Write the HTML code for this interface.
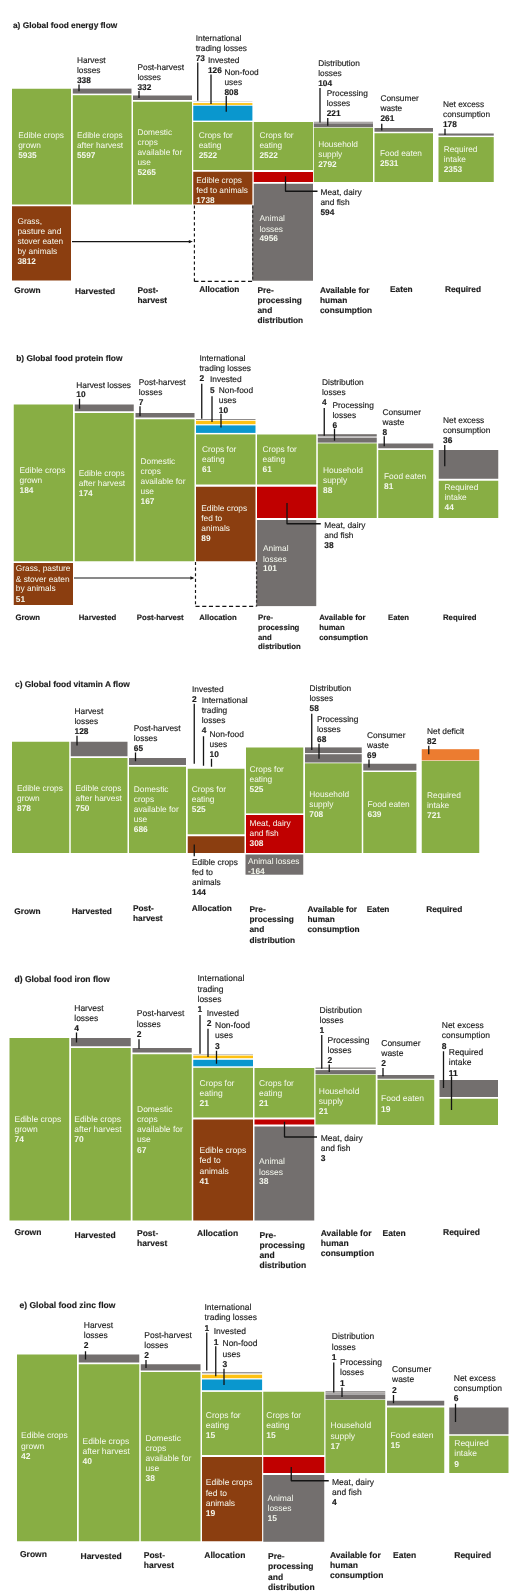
<!DOCTYPE html>
<html><head><meta charset="utf-8"><title>Global food flows</title>
<style>
html,body{margin:0;padding:0;background:#fff}
body{width:520px;height:1591px;overflow:hidden}
svg{display:block;will-change:transform;filter:blur(0.3px)}
svg text{font-family:"Liberation Sans",sans-serif;white-space:pre;text-rendering:geometricPrecision;stroke-linejoin:round}
svg text.k{fill:#1c1c1c;stroke:#1c1c1c;stroke-width:0.15px}
svg text.w{fill:#f6f9ef;stroke:none}
</style></head><body>
<svg width="520" height="1591" viewBox="0 0 520 1591">
<rect x="0" y="0" width="520" height="1591" fill="#fff"/>
<g>
<rect x="12" y="88.75" width="59" height="115.75" fill="#88ae44"/>
<rect x="12" y="206.25" width="59" height="74.25" fill="#8b3e10"/>
<rect x="72.8" y="88.6" width="58.7" height="5" fill="#736f6e"/>
<rect x="72.8" y="95.2" width="58.7" height="109.3" fill="#88ae44"/>
<rect x="133" y="95.5" width="59" height="4.5" fill="#736f6e"/>
<rect x="133" y="101.75" width="59" height="102.75" fill="#88ae44"/>
<rect x="193.25" y="101.2" width="59.15" height="0.7" fill="#d4d3d8"/>
<rect x="193.25" y="103.1" width="59.15" height="1.8" fill="#fdc112"/>
<rect x="193.25" y="105.7" width="59.15" height="14.9" fill="#0a97ce"/>
<rect x="193.25" y="122" width="59.15" height="48" fill="#88ae44"/>
<rect x="193.25" y="171.75" width="59.15" height="32.75" fill="#8b3e10"/>
<rect x="253.75" y="122" width="59.25" height="48" fill="#88ae44"/>
<rect x="253.75" y="172" width="59.25" height="10" fill="#c00000"/>
<rect x="253.75" y="183.75" width="59.25" height="97" fill="#736f6e"/>
<rect x="313.8" y="121.7" width="59.2" height="1.8" fill="#a9a6a5"/>
<rect x="313.8" y="123.5" width="59.2" height="3.7" fill="#736f6e"/>
<rect x="313.8" y="127.75" width="59.2" height="54.25" fill="#88ae44"/>
<rect x="374.5" y="128" width="58.5" height="3.75" fill="#736f6e"/>
<rect x="374.5" y="133.25" width="58.5" height="48.75" fill="#88ae44"/>
<rect x="438.5" y="133.5" width="55.25" height="2.1" fill="#736f6e"/>
<rect x="438.5" y="137.1" width="55.25" height="44.9" fill="#88ae44"/>
<line x1="194.4" y1="205.5" x2="194.4" y2="281.8" stroke="#141414" stroke-width="1.15" stroke-dasharray="3.1 2.5"/>
<line x1="194.4" y1="281.3" x2="252.5" y2="281.3" stroke="#141414" stroke-width="1.15" stroke-dasharray="4.1 2.6"/>
<rect x="252.2" y="205.5" width="1.8" height="75.25" fill="#736f6e"/>
<line x1="252.7" y1="205.5" x2="252.7" y2="281.5" stroke="#3a3838" stroke-width="1.3" stroke-dasharray="2.7 2.05"/>
<line x1="72" y1="241.6" x2="190.8" y2="241.6" stroke="#141414" stroke-width="1.1"/>
<path d="M192.8 241.6 L188.8 239.9 L188.8 243.3 Z" fill="#141414"/>
<text class="k" font-size="8.3"><tspan x="13" y="28.25" font-weight="700">a) Global food energy flow</tspan></text>
<text class="k" font-size="8.3"><tspan x="77" y="63.1">Harvest</tspan><tspan x="77" y="73.1">losses</tspan><tspan x="77" y="83.35" font-weight="700">338</tspan></text>
<line x1="79" y1="84.5" x2="79" y2="91.25" stroke="#141414" stroke-width="1.3"/>
<text class="k" font-size="8.3"><tspan x="137.5" y="70.1">Post-harvest</tspan><tspan x="137.5" y="80.1">losses</tspan><tspan x="137.5" y="90.1" font-weight="700">332</tspan></text>
<line x1="139" y1="91" x2="139" y2="98" stroke="#141414" stroke-width="1.3"/>
<text class="k" font-size="8.3"><tspan x="195.75" y="41.35">International</tspan><tspan x="195.75" y="51.35">trading losses</tspan><tspan x="195.75" y="60.85" font-weight="700">73</tspan></text>
<line x1="197.75" y1="62.5" x2="197.75" y2="100.75" stroke="#141414" stroke-width="1.3"/>
<text class="k" font-size="8.3"><tspan x="208" y="63.1">Invested</tspan><tspan x="208" y="73.1" font-weight="700">126</tspan></text>
<line x1="211" y1="74.5" x2="211" y2="104" stroke="#141414" stroke-width="1.3"/>
<text class="k" font-size="8.3"><tspan x="224.5" y="74.6">Non-food</tspan><tspan x="224.5" y="85.1">uses</tspan><tspan x="224.5" y="94.6" font-weight="700">808</tspan></text>
<line x1="226.25" y1="96" x2="226.25" y2="111.75" stroke="#141414" stroke-width="1.3"/>
<text class="k" font-size="8.3"><tspan x="318.25" y="65.6">Distribution</tspan><tspan x="318.25" y="75.6">losses</tspan><tspan x="318.25" y="85.6" font-weight="700">104</tspan></text>
<line x1="320" y1="88" x2="320" y2="122.5" stroke="#141414" stroke-width="1.3"/>
<text class="k" font-size="8.3"><tspan x="326.75" y="95.6">Processing</tspan><tspan x="326.75" y="105.6">losses</tspan><tspan x="326.75" y="115.6" font-weight="700">221</tspan></text>
<line x1="327.75" y1="118" x2="327.75" y2="125.75" stroke="#141414" stroke-width="1.3"/>
<text class="k" font-size="8.3"><tspan x="380.5" y="101.35">Consumer</tspan><tspan x="380.5" y="111.35">waste</tspan><tspan x="380.5" y="121.35" font-weight="700">261</tspan></text>
<line x1="381.75" y1="123.75" x2="381.75" y2="130.5" stroke="#141414" stroke-width="1.3"/>
<text class="k" font-size="8.3"><tspan x="443" y="106.85">Net excess</tspan><tspan x="443" y="117.1">consumption</tspan><tspan x="443" y="126.85" font-weight="700">178</tspan></text>
<line x1="445" y1="128.75" x2="445" y2="135" stroke="#141414" stroke-width="1.3"/>
<text class="w" font-size="8.3"><tspan x="18.25" y="138.4">Edible crops</tspan><tspan x="18.25" y="148.4">grown</tspan><tspan x="18.25" y="158.4" font-weight="700">5935</tspan></text>
<text class="w" font-size="8.3"><tspan x="77" y="138.4">Edible crops</tspan><tspan x="77" y="148.4">after harvest</tspan><tspan x="77" y="158.4" font-weight="700">5597</tspan></text>
<text class="w" font-size="8.3"><tspan x="137.5" y="134.65">Domestic</tspan><tspan x="137.5" y="144.65">crops</tspan><tspan x="137.5" y="154.65">available for</tspan><tspan x="137.5" y="164.9">use</tspan><tspan x="137.5" y="174.9" font-weight="700">5265</tspan></text>
<text class="w" font-size="8.3"><tspan x="198.75" y="137.65">Crops for</tspan><tspan x="198.75" y="147.65">eating</tspan><tspan x="198.75" y="157.65" font-weight="700">2522</tspan></text>
<text class="w" font-size="8.3"><tspan x="196.25" y="182.65">Edible crops</tspan><tspan x="196.25" y="192.65">fed to animals</tspan><tspan x="196.25" y="202.65" font-weight="700">1738</tspan></text>
<text class="w" font-size="8.3"><tspan x="259.5" y="137.65">Crops for</tspan><tspan x="259.5" y="147.65">eating</tspan><tspan x="259.5" y="157.9" font-weight="700">2522</tspan></text>
<text class="w" font-size="8.3"><tspan x="259.5" y="221.4">Animal</tspan><tspan x="259.5" y="231.9">losses</tspan><tspan x="259.5" y="241.4" font-weight="700">4956</tspan></text>
<text class="w" font-size="8.3"><tspan x="318.25" y="147.15">Household</tspan><tspan x="318.25" y="157.15">supply</tspan><tspan x="318.25" y="167.15" font-weight="700">2792</tspan></text>
<text class="w" font-size="8.3"><tspan x="380" y="155.9">Food eaten</tspan><tspan x="380" y="165.65" font-weight="700">2531</tspan></text>
<text class="w" font-size="8.3"><tspan x="443.75" y="151.9">Required</tspan><tspan x="443.75" y="162.15">intake</tspan><tspan x="443.75" y="171.9" font-weight="700">2353</tspan></text>
<text class="w" font-size="8.3"><tspan x="17.5" y="223.9">Grass,</tspan><tspan x="17.5" y="233.9">pasture and</tspan><tspan x="17.5" y="243.9">stover eaten</tspan><tspan x="17.5" y="254.4">by animals</tspan><tspan x="17.5" y="263.9" font-weight="700">3812</tspan></text>
<text class="k" font-size="8.3"><tspan x="320.5" y="195.1">Meat, dairy</tspan><tspan x="320.5" y="205.1">and fish</tspan><tspan x="320.5" y="214.6" font-weight="700">594</tspan></text>
<line x1="285.5" y1="176.25" x2="285.5" y2="191.25" stroke="#141414" stroke-width="1.3"/>
<line x1="285.15" y1="191.25" x2="317.5" y2="191.25" stroke="#141414" stroke-width="1.3"/>
<text class="k" font-size="8.3"><tspan x="14.25" y="293" font-weight="700">Grown</tspan></text>
<text class="k" font-size="8.3"><tspan x="75" y="293.75" font-weight="700">Harvested</tspan></text>
<text class="k" font-size="8.3"><tspan x="137.5" y="292.5" font-weight="700">Post-</tspan><tspan x="137.5" y="302.5" font-weight="700">harvest</tspan></text>
<text class="k" font-size="8.3"><tspan x="199.25" y="291.75" font-weight="700">Allocation</tspan></text>
<text class="k" font-size="8.3"><tspan x="257.5" y="292.5" font-weight="700">Pre-</tspan><tspan x="257.5" y="302.5" font-weight="700">processing</tspan><tspan x="257.5" y="313" font-weight="700">and</tspan><tspan x="257.5" y="323" font-weight="700">distribution</tspan></text>
<text class="k" font-size="8.3"><tspan x="320" y="292.5" font-weight="700">Available for</tspan><tspan x="320" y="302.5" font-weight="700">human</tspan><tspan x="320" y="312.5" font-weight="700">consumption</tspan></text>
<text class="k" font-size="8.3"><tspan x="390" y="292" font-weight="700">Eaten</tspan></text>
<text class="k" font-size="8.3"><tspan x="445" y="292" font-weight="700">Required</tspan></text>
</g>
<g>
<rect x="13.75" y="404.5" width="59.25" height="156.75" fill="#88ae44"/>
<rect x="13.75" y="563" width="59.25" height="42" fill="#8b3e10"/>
<rect x="74.75" y="404.5" width="59" height="6.75" fill="#736f6e"/>
<rect x="74.75" y="413" width="59" height="148.25" fill="#88ae44"/>
<rect x="135.5" y="413" width="59" height="4.5" fill="#736f6e"/>
<rect x="135.5" y="419.25" width="59" height="142" fill="#88ae44"/>
<rect x="196" y="419.1" width="59.5" height="0.8" fill="#736f6e"/>
<rect x="196" y="420.8" width="59.5" height="3.4" fill="#fdc112"/>
<rect x="196" y="425.4" width="59.5" height="7.5" fill="#0a97ce"/>
<rect x="196" y="434.4" width="59.5" height="50.1" fill="#88ae44"/>
<rect x="196" y="486.75" width="59.5" height="74.5" fill="#8b3e10"/>
<rect x="257" y="434.5" width="59.25" height="50" fill="#88ae44"/>
<rect x="257" y="486.75" width="59.25" height="31.25" fill="#c00000"/>
<rect x="257" y="520" width="59.25" height="86.1" fill="#736f6e"/>
<rect x="256.3" y="562" width="0.9" height="44.1" fill="#736f6e"/>
<rect x="317.8" y="434.2" width="58.95" height="2.3" fill="#736f6e"/>
<rect x="317.8" y="437.6" width="58.95" height="5" fill="#736f6e"/>
<rect x="317.8" y="443.4" width="58.95" height="74.6" fill="#88ae44"/>
<rect x="378.25" y="443.5" width="55" height="4.75" fill="#736f6e"/>
<rect x="378.25" y="450" width="55" height="68" fill="#88ae44"/>
<rect x="438.75" y="450" width="59.5" height="28.75" fill="#736f6e"/>
<rect x="438.75" y="480.75" width="59.5" height="37.25" fill="#88ae44"/>
<line x1="195.5" y1="562" x2="195.5" y2="606.8" stroke="#141414" stroke-width="1.15" stroke-dasharray="3.1 2.5"/>
<line x1="195.5" y1="606.3" x2="256.3" y2="606.3" stroke="#141414" stroke-width="1.15" stroke-dasharray="4.1 2.6"/>
<line x1="256.6" y1="562" x2="256.6" y2="606.5" stroke="#3a3838" stroke-width="1.3" stroke-dasharray="2.7 2.05"/>
<line x1="74" y1="577.95" x2="192.4" y2="577.95" stroke="#141414" stroke-width="1.1"/>
<path d="M194.4 577.95 L190.4 576.25 L190.4 579.65 Z" fill="#141414"/>
<text class="k" font-size="8.35"><tspan x="16.25" y="361.25" font-weight="700">b) Global food protein flow</tspan></text>
<text class="k" font-size="8.35"><tspan x="76.25" y="387.6">Harvest losses</tspan><tspan x="76.25" y="397.1" font-weight="700">10</tspan></text>
<line x1="79.5" y1="398.75" x2="79.5" y2="408.75" stroke="#141414" stroke-width="1.3"/>
<text class="k" font-size="8.35"><tspan x="138.75" y="385.1">Post-harvest</tspan><tspan x="138.75" y="395.1">losses</tspan><tspan x="138.75" y="405.1" font-weight="700">7</tspan></text>
<line x1="140" y1="406.25" x2="140" y2="416.25" stroke="#141414" stroke-width="1.3"/>
<text class="k" font-size="8.35"><tspan x="199.5" y="360.85">International</tspan><tspan x="199.5" y="370.85">trading losses</tspan><tspan x="199.5" y="380.85" font-weight="700">2</tspan></text>
<line x1="201.75" y1="383.75" x2="201.75" y2="418.75" stroke="#141414" stroke-width="1.3"/>
<text class="k" font-size="8.35"><tspan x="210" y="382.1">Invested</tspan><tspan x="210" y="392.6" font-weight="700">5</tspan></text>
<line x1="212" y1="396.25" x2="212" y2="422" stroke="#141414" stroke-width="1.3"/>
<text class="k" font-size="8.35"><tspan x="218.75" y="393.1">Non-food</tspan><tspan x="218.75" y="403.1">uses</tspan><tspan x="218.75" y="413.35" font-weight="700">10</tspan></text>
<line x1="221" y1="413.75" x2="221" y2="427.5" stroke="#141414" stroke-width="1.3"/>
<text class="k" font-size="8.35"><tspan x="322" y="385.1">Distribution</tspan><tspan x="322" y="395.1">losses</tspan><tspan x="322" y="405.1" font-weight="700">4</tspan></text>
<line x1="324.25" y1="408" x2="324.25" y2="435.75" stroke="#141414" stroke-width="1.3"/>
<text class="k" font-size="8.35"><tspan x="332.5" y="407.6">Processing</tspan><tspan x="332.5" y="417.6">losses</tspan><tspan x="332.5" y="427.6" font-weight="700">6</tspan></text>
<line x1="334.5" y1="428.75" x2="334.5" y2="440.75" stroke="#141414" stroke-width="1.3"/>
<text class="k" font-size="8.35"><tspan x="382.5" y="414.6">Consumer</tspan><tspan x="382.5" y="424.6">waste</tspan><tspan x="382.5" y="435.1" font-weight="700">8</tspan></text>
<line x1="384.25" y1="436.25" x2="384.25" y2="446.25" stroke="#141414" stroke-width="1.3"/>
<text class="k" font-size="8.35"><tspan x="443" y="423.1">Net excess</tspan><tspan x="443" y="433.1">consumption</tspan><tspan x="443" y="443.1" font-weight="700">36</tspan></text>
<line x1="444.75" y1="445" x2="444.75" y2="466.25" stroke="#141414" stroke-width="1.3"/>
<text class="w" font-size="8.35"><tspan x="19.5" y="472.65">Edible crops</tspan><tspan x="19.5" y="482.65">grown</tspan><tspan x="19.5" y="493.15" font-weight="700">184</tspan></text>
<text class="w" font-size="8.35"><tspan x="78.75" y="476.4">Edible crops</tspan><tspan x="78.75" y="486.4">after harvest</tspan><tspan x="78.75" y="496.4" font-weight="700">174</tspan></text>
<text class="w" font-size="8.35"><tspan x="140.5" y="463.9">Domestic</tspan><tspan x="140.5" y="473.9">crops</tspan><tspan x="140.5" y="484.4">available for</tspan><tspan x="140.5" y="494.4">use</tspan><tspan x="140.5" y="504.4" font-weight="700">167</tspan></text>
<text class="w" font-size="8.35"><tspan x="202" y="452.15">Crops for</tspan><tspan x="202" y="462.15">eating</tspan><tspan x="202" y="471.9" font-weight="700">61</tspan></text>
<text class="w" font-size="8.35"><tspan x="201.25" y="511.4">Edible crops</tspan><tspan x="201.25" y="521.4">fed to</tspan><tspan x="201.25" y="531.4">animals</tspan><tspan x="201.25" y="541.4" font-weight="700">89</tspan></text>
<text class="w" font-size="8.35"><tspan x="262.5" y="452.15">Crops for</tspan><tspan x="262.5" y="462.15">eating</tspan><tspan x="262.5" y="471.9" font-weight="700">61</tspan></text>
<text class="w" font-size="8.35"><tspan x="263" y="551.4">Animal</tspan><tspan x="263" y="561.9">losses</tspan><tspan x="263" y="571.4" font-weight="700">101</tspan></text>
<text class="w" font-size="8.35"><tspan x="323" y="472.65">Household</tspan><tspan x="323" y="482.65">supply</tspan><tspan x="323" y="492.65" font-weight="700">88</tspan></text>
<text class="w" font-size="8.35"><tspan x="384" y="478.9">Food eaten</tspan><tspan x="384" y="488.9" font-weight="700">81</tspan></text>
<text class="w" font-size="8.35"><tspan x="444.5" y="490.15">Required</tspan><tspan x="444.5" y="500.15">intake</tspan><tspan x="444.5" y="510.15" font-weight="700">44</tspan></text>
<text class="w" font-size="8.35"><tspan x="15.75" y="571.4">Grass, pasture</tspan><tspan x="15.75" y="581.9">&amp; stover eaten</tspan><tspan x="15.75" y="591.4">by animals</tspan><tspan x="15.75" y="601.9" font-weight="700">51</tspan></text>
<text class="k" font-size="8.35"><tspan x="324.25" y="527.6">Meat, dairy</tspan><tspan x="324.25" y="537.6">and fish</tspan><tspan x="324.25" y="547.6" font-weight="700">38</tspan></text>
<line x1="287" y1="503" x2="287" y2="523.75" stroke="#141414" stroke-width="1.3"/>
<line x1="286.65" y1="523.75" x2="320.75" y2="523.75" stroke="#141414" stroke-width="1.3"/>
<text class="k" font-size="7.75"><tspan x="15.5" y="620.4" font-weight="700">Grown</tspan></text>
<text class="k" font-size="7.75"><tspan x="78.75" y="620.4" font-weight="700">Harvested</tspan></text>
<text class="k" font-size="7.75"><tspan x="136.75" y="620.4" font-weight="700">Post-harvest</tspan></text>
<text class="k" font-size="7.75"><tspan x="199.25" y="620.4" font-weight="700">Allocation</tspan></text>
<text class="k" font-size="7.75"><tspan x="258" y="620.4" font-weight="700">Pre-</tspan><tspan x="258" y="630" font-weight="700">processing</tspan><tspan x="258" y="639.6" font-weight="700">and</tspan><tspan x="258" y="648.6" font-weight="700">distribution</tspan></text>
<text class="k" font-size="7.75"><tspan x="319.25" y="620.4" font-weight="700">Available for</tspan><tspan x="319.25" y="630" font-weight="700">human</tspan><tspan x="319.25" y="639.6" font-weight="700">consumption</tspan></text>
<text class="k" font-size="7.75"><tspan x="388" y="620.4" font-weight="700">Eaten</tspan></text>
<text class="k" font-size="7.75"><tspan x="443" y="620.4" font-weight="700">Required</tspan></text>
</g>
<g>
<rect x="12" y="741.75" width="57.25" height="111.25" fill="#88ae44"/>
<rect x="70.75" y="741.75" width="56.75" height="14.5" fill="#736f6e"/>
<rect x="70.75" y="758" width="56.75" height="95" fill="#88ae44"/>
<rect x="129" y="758" width="57" height="7" fill="#736f6e"/>
<rect x="129" y="766.75" width="57" height="86.25" fill="#88ae44"/>
<rect x="187.75" y="768.75" width="56.75" height="65.5" fill="#88ae44"/>
<rect x="187.75" y="836.25" width="56.75" height="16.75" fill="#8b3e10"/>
<rect x="246" y="747.5" width="57.25" height="65.9" fill="#88ae44"/>
<rect x="246" y="815" width="57.25" height="38" fill="#c00000"/>
<rect x="245.5" y="854.5" width="57.75" height="20.2" fill="#736f6e"/>
<rect x="305" y="747.4" width="56.75" height="5.7" fill="#736f6e"/>
<rect x="305" y="754.2" width="56.75" height="8.3" fill="#736f6e"/>
<rect x="305" y="763.3" width="56.75" height="89.7" fill="#88ae44"/>
<rect x="363.25" y="763.75" width="53.15" height="6.75" fill="#736f6e"/>
<rect x="363.25" y="772" width="53.15" height="81" fill="#88ae44"/>
<rect x="421.75" y="749.2" width="57.5" height="11.2" fill="#ec7c30"/>
<rect x="421.75" y="760.9" width="57.5" height="92.1" fill="#88ae44"/>
<text class="k" font-size="8.4"><tspan x="15" y="687" font-weight="700">c) Global food vitamin A flow</tspan></text>
<text class="k" font-size="8.35"><tspan x="74.5" y="713.6">Harvest</tspan><tspan x="74.5" y="723.6">losses</tspan><tspan x="74.5" y="733.6" font-weight="700">128</tspan></text>
<line x1="77" y1="735.75" x2="77" y2="745.5" stroke="#141414" stroke-width="1.3"/>
<text class="k" font-size="8.35"><tspan x="133.75" y="730.6">Post-harvest</tspan><tspan x="133.75" y="740.85">losses</tspan><tspan x="133.75" y="750.85" font-weight="700">65</tspan></text>
<line x1="135.5" y1="752.5" x2="135.5" y2="761.25" stroke="#141414" stroke-width="1.3"/>
<text class="k" font-size="8.35"><tspan x="192" y="691.6">Invested</tspan><tspan x="192" y="701.6" font-weight="700">2</tspan></text>
<line x1="194.25" y1="703.75" x2="194.25" y2="763.75" stroke="#141414" stroke-width="1.3"/>
<text class="k" font-size="8.35"><tspan x="201.75" y="703.1">International</tspan><tspan x="201.75" y="713.35">trading</tspan><tspan x="201.75" y="723.35">losses</tspan><tspan x="201.75" y="733.35" font-weight="700">4</tspan></text>
<line x1="203.5" y1="736.25" x2="203.5" y2="765.75" stroke="#141414" stroke-width="1.3"/>
<text class="k" font-size="8.35"><tspan x="209.5" y="737.1">Non-food</tspan><tspan x="209.5" y="747.1">uses</tspan><tspan x="209.5" y="756.85" font-weight="700">10</tspan></text>
<line x1="211.5" y1="758.75" x2="211.5" y2="766.75" stroke="#141414" stroke-width="1.3"/>
<text class="k" font-size="8.35"><tspan x="309.5" y="691.35">Distribution</tspan><tspan x="309.5" y="701.35">losses</tspan><tspan x="309.5" y="711.35" font-weight="700">58</tspan></text>
<line x1="311.75" y1="713.75" x2="311.75" y2="750" stroke="#141414" stroke-width="1.3"/>
<text class="k" font-size="8.35"><tspan x="317" y="721.85">Processing</tspan><tspan x="317" y="732.1">losses</tspan><tspan x="317" y="742.1" font-weight="700">68</tspan></text>
<line x1="319" y1="743.75" x2="319" y2="758.75" stroke="#141414" stroke-width="1.3"/>
<text class="k" font-size="8.35"><tspan x="367" y="737.6">Consumer</tspan><tspan x="367" y="747.6">waste</tspan><tspan x="367" y="757.6" font-weight="700">69</tspan></text>
<line x1="369" y1="759.5" x2="369" y2="767.5" stroke="#141414" stroke-width="1.3"/>
<text class="k" font-size="8.35"><tspan x="427" y="733.85">Net deficit</tspan><tspan x="427" y="743.85" font-weight="700">82</tspan></text>
<line x1="428.75" y1="745.75" x2="428.75" y2="754.25" stroke="#141414" stroke-width="1.3"/>
<text class="w" font-size="8.35"><tspan x="17" y="791.4">Edible crops</tspan><tspan x="17" y="801.4">grown</tspan><tspan x="17" y="811.4" font-weight="700">878</tspan></text>
<text class="w" font-size="8.35"><tspan x="75.5" y="791.4">Edible crops</tspan><tspan x="75.5" y="801.4">after harvest</tspan><tspan x="75.5" y="811.4" font-weight="700">750</tspan></text>
<text class="w" font-size="8.35"><tspan x="133.75" y="791.9">Domestic</tspan><tspan x="133.75" y="801.9">crops</tspan><tspan x="133.75" y="811.9">available for</tspan><tspan x="133.75" y="821.9">use</tspan><tspan x="133.75" y="832.15" font-weight="700">686</tspan></text>
<text class="w" font-size="8.35"><tspan x="191.75" y="791.9">Crops for</tspan><tspan x="191.75" y="801.9">eating</tspan><tspan x="191.75" y="811.9" font-weight="700">525</tspan></text>
<text class="w" font-size="8.35"><tspan x="249.5" y="771.9">Crops for</tspan><tspan x="249.5" y="782.15">eating</tspan><tspan x="249.5" y="791.9" font-weight="700">525</tspan></text>
<text class="w" font-size="8.35"><tspan x="249.5" y="826.4">Meat, dairy</tspan><tspan x="249.5" y="835.9">and fish</tspan><tspan x="249.5" y="845.9" font-weight="700">308</tspan></text>
<text class="w" font-size="8.35"><tspan x="248" y="863.9">Animal losses</tspan><tspan x="248" y="873.9" font-weight="700">-164</tspan></text>
<text class="w" font-size="8.35"><tspan x="309.25" y="796.9">Household</tspan><tspan x="309.25" y="806.9">supply</tspan><tspan x="309.25" y="817.15" font-weight="700">708</tspan></text>
<text class="w" font-size="8.35"><tspan x="367.5" y="807.15">Food eaten</tspan><tspan x="367.5" y="817.15" font-weight="700">639</tspan></text>
<text class="w" font-size="8.35"><tspan x="427" y="798.15">Required</tspan><tspan x="427" y="808.4">intake</tspan><tspan x="427" y="818.4" font-weight="700">721</tspan></text>
<text class="k" font-size="8.35"><tspan x="192" y="865.1">Edible crops</tspan><tspan x="192" y="875.1">fed to</tspan><tspan x="192" y="885.1">animals</tspan><tspan x="192" y="895.1" font-weight="700">144</tspan></text>
<line x1="194.25" y1="844.5" x2="194.25" y2="856.25" stroke="#141414" stroke-width="1.3"/>
<text class="k" font-size="8.3"><tspan x="14.25" y="914.25" font-weight="700">Grown</tspan></text>
<text class="k" font-size="8.3"><tspan x="71.75" y="914.25" font-weight="700">Harvested</tspan></text>
<text class="k" font-size="8.3"><tspan x="133" y="911.25" font-weight="700">Post-</tspan><tspan x="133" y="921.25" font-weight="700">harvest</tspan></text>
<text class="k" font-size="8.3"><tspan x="191.75" y="910.75" font-weight="700">Allocation</tspan></text>
<text class="k" font-size="8.3"><tspan x="249.5" y="911.75" font-weight="700">Pre-</tspan><tspan x="249.5" y="922" font-weight="700">processing</tspan><tspan x="249.5" y="932" font-weight="700">and</tspan><tspan x="249.5" y="942.5" font-weight="700">distribution</tspan></text>
<text class="k" font-size="8.3"><tspan x="307.5" y="911.75" font-weight="700">Available for</tspan><tspan x="307.5" y="922" font-weight="700">human</tspan><tspan x="307.5" y="932" font-weight="700">consumption</tspan></text>
<text class="k" font-size="8.3"><tspan x="366.75" y="911.75" font-weight="700">Eaten</tspan></text>
<text class="k" font-size="8.3"><tspan x="426.25" y="911.75" font-weight="700">Required</tspan></text>
</g>
<g>
<rect x="9.5" y="1038" width="59.75" height="182.5" fill="#88ae44"/>
<rect x="71" y="1038" width="59.75" height="8.25" fill="#736f6e"/>
<rect x="71" y="1048" width="59.75" height="172.5" fill="#88ae44"/>
<rect x="132.5" y="1048" width="59.25" height="4.5" fill="#736f6e"/>
<rect x="132.5" y="1054.25" width="59.25" height="166.25" fill="#88ae44"/>
<rect x="193.25" y="1054.2" width="59.75" height="0.6" fill="#a9a6a5"/>
<rect x="193.25" y="1055.6" width="59.75" height="2.6" fill="#fdc112"/>
<rect x="193.25" y="1059.8" width="59.75" height="6.5" fill="#0a97ce"/>
<rect x="193.25" y="1067.8" width="59.75" height="49.7" fill="#88ae44"/>
<rect x="193.25" y="1119.5" width="59.75" height="101" fill="#8b3e10"/>
<rect x="254.5" y="1068" width="59.75" height="49.5" fill="#88ae44"/>
<rect x="254.5" y="1119.5" width="59.75" height="5" fill="#c00000"/>
<rect x="254.5" y="1126.5" width="59.75" height="94" fill="#736f6e"/>
<rect x="315.5" y="1067.6" width="60.25" height="1.1" fill="#736f6e"/>
<rect x="315.5" y="1070.1" width="60.25" height="4.1" fill="#736f6e"/>
<rect x="315.5" y="1074.7" width="60.25" height="49.8" fill="#88ae44"/>
<rect x="377.5" y="1075" width="56.75" height="3.7" fill="#736f6e"/>
<rect x="377.5" y="1079.8" width="56.75" height="45.2" fill="#88ae44"/>
<rect x="439.5" y="1080" width="58.5" height="17" fill="#736f6e"/>
<rect x="439.5" y="1098.75" width="58.5" height="26.25" fill="#88ae44"/>
<text class="k" font-size="8.5"><tspan x="14.5" y="981.75" font-weight="700">d) Global food iron flow</tspan></text>
<text class="k" font-size="8.5"><tspan x="74.25" y="1010.6">Harvest</tspan><tspan x="74.25" y="1020.85">losses</tspan><tspan x="74.25" y="1030.85" font-weight="700">4</tspan></text>
<line x1="76.5" y1="1032.5" x2="76.5" y2="1042.5" stroke="#141414" stroke-width="1.3"/>
<text class="k" font-size="8.5"><tspan x="136.75" y="1016.35">Post-harvest</tspan><tspan x="136.75" y="1026.85">losses</tspan><tspan x="136.75" y="1036.85" font-weight="700">2</tspan></text>
<line x1="139" y1="1039.25" x2="139" y2="1048.75" stroke="#141414" stroke-width="1.3"/>
<text class="k" font-size="8.5"><tspan x="197.5" y="981.35">International</tspan><tspan x="197.5" y="991.85">trading</tspan><tspan x="197.5" y="1001.85">losses</tspan><tspan x="197.5" y="1011.85" font-weight="700">1</tspan></text>
<line x1="200" y1="1015" x2="200" y2="1053.75" stroke="#141414" stroke-width="1.3"/>
<text class="k" font-size="8.5"><tspan x="206.75" y="1015.85">Invested</tspan><tspan x="206.75" y="1026.35" font-weight="700">2</tspan></text>
<line x1="208" y1="1028.75" x2="208" y2="1057" stroke="#141414" stroke-width="1.3"/>
<text class="k" font-size="8.5"><tspan x="215" y="1028.35">Non-food</tspan><tspan x="215" y="1038.35">uses</tspan><tspan x="215" y="1048.85" font-weight="700">3</tspan></text>
<line x1="216.5" y1="1050.75" x2="216.5" y2="1063.75" stroke="#141414" stroke-width="1.3"/>
<text class="k" font-size="8.5"><tspan x="319.5" y="1013.1">Distribution</tspan><tspan x="319.5" y="1023.1">losses</tspan><tspan x="319.5" y="1033.35" font-weight="700">1</tspan></text>
<line x1="321.75" y1="1035" x2="321.75" y2="1068.75" stroke="#141414" stroke-width="1.3"/>
<text class="k" font-size="8.5"><tspan x="327.5" y="1042.6">Processing</tspan><tspan x="327.5" y="1052.6">losses</tspan><tspan x="327.5" y="1062.6" font-weight="700">2</tspan></text>
<line x1="329.25" y1="1064.5" x2="329.25" y2="1072" stroke="#141414" stroke-width="1.3"/>
<text class="k" font-size="8.5"><tspan x="381.25" y="1045.6">Consumer</tspan><tspan x="381.25" y="1056.1">waste</tspan><tspan x="381.25" y="1066.35" font-weight="700">2</tspan></text>
<line x1="383" y1="1068" x2="383" y2="1076.25" stroke="#141414" stroke-width="1.3"/>
<text class="k" font-size="8.5"><tspan x="441.75" y="1028.35">Net excess</tspan><tspan x="441.75" y="1038.35">consumption</tspan><tspan x="441.75" y="1048.85" font-weight="700">8</tspan></text>
<line x1="443.5" y1="1051.25" x2="443.5" y2="1088" stroke="#141414" stroke-width="1.3"/>
<text class="k" font-size="8.5"><tspan x="448.75" y="1054.6">Required</tspan><tspan x="448.75" y="1065.1">intake</tspan><tspan x="448.75" y="1075.6" font-weight="700">11</tspan></text>
<line x1="451.5" y1="1076.25" x2="451.5" y2="1110" stroke="#141414" stroke-width="1.3"/>
<text class="w" font-size="8.5"><tspan x="14.5" y="1122.15">Edible crops</tspan><tspan x="14.5" y="1132.15">grown</tspan><tspan x="14.5" y="1142.15" font-weight="700">74</tspan></text>
<text class="w" font-size="8.5"><tspan x="74.25" y="1122.15">Edible crops</tspan><tspan x="74.25" y="1132.15">after harvest</tspan><tspan x="74.25" y="1142.15" font-weight="700">70</tspan></text>
<text class="w" font-size="8.5"><tspan x="137" y="1111.9">Domestic</tspan><tspan x="137" y="1122.15">crops</tspan><tspan x="137" y="1132.15">available for</tspan><tspan x="137" y="1142.15">use</tspan><tspan x="137" y="1152.65" font-weight="700">67</tspan></text>
<text class="w" font-size="8.5"><tspan x="199.5" y="1085.9">Crops for</tspan><tspan x="199.5" y="1095.9">eating</tspan><tspan x="199.5" y="1106.4" font-weight="700">21</tspan></text>
<text class="w" font-size="8.5"><tspan x="199.5" y="1153.4">Edible crops</tspan><tspan x="199.5" y="1163.4">fed to</tspan><tspan x="199.5" y="1173.9">animals</tspan><tspan x="199.5" y="1183.9" font-weight="700">41</tspan></text>
<text class="w" font-size="8.5"><tspan x="259" y="1085.9">Crops for</tspan><tspan x="259" y="1095.9">eating</tspan><tspan x="259" y="1106.4" font-weight="700">21</tspan></text>
<text class="w" font-size="8.5"><tspan x="259" y="1164.4">Animal</tspan><tspan x="259" y="1174.65">losses</tspan><tspan x="259" y="1184.4" font-weight="700">38</tspan></text>
<text class="w" font-size="8.5"><tspan x="318.75" y="1093.9">Household</tspan><tspan x="318.75" y="1103.9">supply</tspan><tspan x="318.75" y="1113.9" font-weight="700">21</tspan></text>
<text class="w" font-size="8.5"><tspan x="381" y="1101.4">Food eaten</tspan><tspan x="381" y="1111.65" font-weight="700">19</tspan></text>
<text class="k" font-size="8.5"><tspan x="320.75" y="1140.85">Meat, dairy</tspan><tspan x="320.75" y="1150.85">and fish</tspan><tspan x="320.75" y="1161.35" font-weight="700">3</tspan></text>
<line x1="284.5" y1="1121.75" x2="284.5" y2="1137" stroke="#141414" stroke-width="1.3"/>
<line x1="284.15" y1="1137" x2="317" y2="1137" stroke="#141414" stroke-width="1.3"/>
<text class="k" font-size="8.5"><tspan x="14.5" y="1235" font-weight="700">Grown</tspan></text>
<text class="k" font-size="8.5"><tspan x="74.5" y="1237.5" font-weight="700">Harvested</tspan></text>
<text class="k" font-size="8.5"><tspan x="137" y="1236.25" font-weight="700">Post-</tspan><tspan x="137" y="1246.25" font-weight="700">harvest</tspan></text>
<text class="k" font-size="8.5"><tspan x="197" y="1235.5" font-weight="700">Allocation</tspan></text>
<text class="k" font-size="8.5"><tspan x="259.5" y="1237.5" font-weight="700">Pre-</tspan><tspan x="259.5" y="1247.5" font-weight="700">processing</tspan><tspan x="259.5" y="1258" font-weight="700">and</tspan><tspan x="259.5" y="1268" font-weight="700">distribution</tspan></text>
<text class="k" font-size="8.5"><tspan x="320.75" y="1235.5" font-weight="700">Available for</tspan><tspan x="320.75" y="1245.75" font-weight="700">human</tspan><tspan x="320.75" y="1255.75" font-weight="700">consumption</tspan></text>
<text class="k" font-size="8.5"><tspan x="382.5" y="1235.5" font-weight="700">Eaten</tspan></text>
<text class="k" font-size="8.5"><tspan x="443" y="1235" font-weight="700">Required</tspan></text>
</g>
<g>
<rect x="17" y="1354.5" width="60" height="186.75" fill="#88ae44"/>
<rect x="78.75" y="1354.5" width="60.5" height="8" fill="#736f6e"/>
<rect x="78.75" y="1364.25" width="60.5" height="177" fill="#88ae44"/>
<rect x="140.75" y="1364.25" width="59.75" height="6.25" fill="#736f6e"/>
<rect x="140.75" y="1372" width="59.75" height="169.25" fill="#88ae44"/>
<rect x="202" y="1372.3" width="60.1" height="1" fill="#736f6e"/>
<rect x="202" y="1374.7" width="60.1" height="3.5" fill="#fdc112"/>
<rect x="202" y="1379.5" width="60.1" height="10.7" fill="#0a97ce"/>
<rect x="202" y="1391.9" width="60.1" height="63.1" fill="#88ae44"/>
<rect x="202" y="1457" width="60.1" height="84.25" fill="#8b3e10"/>
<rect x="263.25" y="1391.75" width="61" height="63.25" fill="#88ae44"/>
<rect x="263.25" y="1457" width="61" height="16" fill="#c00000"/>
<rect x="263.25" y="1475" width="61" height="66.75" fill="#736f6e"/>
<rect x="325.5" y="1391.3" width="59.75" height="1.1" fill="#736f6e"/>
<rect x="325.5" y="1392.4" width="59.75" height="1.9" fill="#a9a6a5"/>
<rect x="325.5" y="1394.5" width="59.75" height="4.8" fill="#736f6e"/>
<rect x="325.5" y="1399.9" width="59.75" height="73.1" fill="#88ae44"/>
<rect x="387" y="1400.75" width="57.25" height="4.75" fill="#736f6e"/>
<rect x="387" y="1407.5" width="57.25" height="65.5" fill="#88ae44"/>
<rect x="449.25" y="1407.5" width="59.25" height="26.75" fill="#736f6e"/>
<rect x="449.25" y="1435.75" width="59.25" height="37.25" fill="#88ae44"/>
<text class="k" font-size="8.55"><tspan x="19.5" y="1307.5" font-weight="700">e) Global food zinc flow</tspan></text>
<text class="k" font-size="8.5"><tspan x="83.75" y="1328.1">Harvest</tspan><tspan x="83.75" y="1338.35">losses</tspan><tspan x="83.75" y="1348.35" font-weight="700">2</tspan></text>
<line x1="85.5" y1="1351.25" x2="85.5" y2="1359.5" stroke="#141414" stroke-width="1.3"/>
<text class="k" font-size="8.5"><tspan x="144.25" y="1338.1">Post-harvest</tspan><tspan x="144.25" y="1348.35">losses</tspan><tspan x="144.25" y="1358.35" font-weight="700">2</tspan></text>
<line x1="146" y1="1360" x2="146" y2="1368" stroke="#141414" stroke-width="1.3"/>
<text class="k" font-size="8.5"><tspan x="204.5" y="1310.1">International</tspan><tspan x="204.5" y="1320.1">trading losses</tspan><tspan x="204.5" y="1330.6" font-weight="700">1</tspan></text>
<line x1="206.75" y1="1332.5" x2="206.75" y2="1370.5" stroke="#141414" stroke-width="1.3"/>
<text class="k" font-size="8.5"><tspan x="213.75" y="1334.35">Invested</tspan><tspan x="213.75" y="1344.6" font-weight="700">1</tspan></text>
<line x1="215.75" y1="1346.25" x2="215.75" y2="1376.25" stroke="#141414" stroke-width="1.3"/>
<text class="k" font-size="8.5"><tspan x="222.5" y="1346.35">Non-food</tspan><tspan x="222.5" y="1356.85">uses</tspan><tspan x="222.5" y="1366.85" font-weight="700">3</tspan></text>
<line x1="224" y1="1368.75" x2="224" y2="1385" stroke="#141414" stroke-width="1.3"/>
<text class="k" font-size="8.5"><tspan x="331.75" y="1339.35">Distribution</tspan><tspan x="331.75" y="1349.6">losses</tspan><tspan x="331.75" y="1360.1" font-weight="700">1</tspan></text>
<line x1="333.75" y1="1362.5" x2="333.75" y2="1392.5" stroke="#141414" stroke-width="1.3"/>
<text class="k" font-size="8.5"><tspan x="340" y="1365.1">Processing</tspan><tspan x="340" y="1375.1">losses</tspan><tspan x="340" y="1385.9" font-weight="700">1</tspan></text>
<line x1="342" y1="1387.5" x2="342" y2="1397" stroke="#141414" stroke-width="1.3"/>
<text class="k" font-size="8.5"><tspan x="392" y="1371.85">Consumer</tspan><tspan x="392" y="1382.1">waste</tspan><tspan x="392" y="1392.6" font-weight="700">2</tspan></text>
<line x1="393.5" y1="1395" x2="393.5" y2="1403.25" stroke="#141414" stroke-width="1.3"/>
<text class="k" font-size="8.5"><tspan x="453.75" y="1380.6">Net excess</tspan><tspan x="453.75" y="1390.85">consumption</tspan><tspan x="453.75" y="1401.35" font-weight="700">6</tspan></text>
<line x1="455.5" y1="1403.75" x2="455.5" y2="1422" stroke="#141414" stroke-width="1.3"/>
<text class="w" font-size="8.5"><tspan x="21" y="1438.4">Edible crops</tspan><tspan x="21" y="1448.9">grown</tspan><tspan x="21" y="1458.9" font-weight="700">42</tspan></text>
<text class="w" font-size="8.5"><tspan x="82.5" y="1443.9">Edible crops</tspan><tspan x="82.5" y="1453.9">after harvest</tspan><tspan x="82.5" y="1464.4" font-weight="700">40</tspan></text>
<text class="w" font-size="8.5"><tspan x="145.5" y="1440.65">Domestic</tspan><tspan x="145.5" y="1450.65">crops</tspan><tspan x="145.5" y="1460.9">available for</tspan><tspan x="145.5" y="1470.9">use</tspan><tspan x="145.5" y="1481.4" font-weight="700">38</tspan></text>
<text class="w" font-size="8.5"><tspan x="205.75" y="1418.15">Crops for</tspan><tspan x="205.75" y="1428.15">eating</tspan><tspan x="205.75" y="1438.4" font-weight="700">15</tspan></text>
<text class="w" font-size="8.5"><tspan x="205.75" y="1485.15">Edible crops</tspan><tspan x="205.75" y="1495.65">fed to</tspan><tspan x="205.75" y="1505.65">animals</tspan><tspan x="205.75" y="1515.9" font-weight="700">19</tspan></text>
<text class="w" font-size="8.5"><tspan x="266.25" y="1418.15">Crops for</tspan><tspan x="266.25" y="1428.15">eating</tspan><tspan x="266.25" y="1438.4" font-weight="700">15</tspan></text>
<text class="w" font-size="8.5"><tspan x="267.5" y="1500.65">Animal</tspan><tspan x="267.5" y="1510.9">losses</tspan><tspan x="267.5" y="1521.4" font-weight="700">15</tspan></text>
<text class="w" font-size="8.5"><tspan x="330.5" y="1428.4">Household</tspan><tspan x="330.5" y="1438.9">supply</tspan><tspan x="330.5" y="1448.9" font-weight="700">17</tspan></text>
<text class="w" font-size="8.5"><tspan x="390.5" y="1437.65">Food eaten</tspan><tspan x="390.5" y="1447.65" font-weight="700">15</tspan></text>
<text class="w" font-size="8.5"><tspan x="454.25" y="1446.4">Required</tspan><tspan x="454.25" y="1456.4">intake</tspan><tspan x="454.25" y="1466.9" font-weight="700">9</tspan></text>
<text class="k" font-size="8.5"><tspan x="332" y="1484.6">Meat, dairy</tspan><tspan x="332" y="1495.1">and fish</tspan><tspan x="332" y="1505.1" font-weight="700">4</tspan></text>
<line x1="291.25" y1="1467" x2="291.25" y2="1480.75" stroke="#141414" stroke-width="1.3"/>
<line x1="290.9" y1="1480.75" x2="328.75" y2="1480.75" stroke="#141414" stroke-width="1.3"/>
<text class="k" font-size="8.5"><tspan x="20" y="1557" font-weight="700">Grown</tspan></text>
<text class="k" font-size="8.5"><tspan x="80.5" y="1559.25" font-weight="700">Harvested</tspan></text>
<text class="k" font-size="8.5"><tspan x="143.75" y="1558.25" font-weight="700">Post-</tspan><tspan x="143.75" y="1568.25" font-weight="700">harvest</tspan></text>
<text class="k" font-size="8.5"><tspan x="204.25" y="1557.5" font-weight="700">Allocation</tspan></text>
<text class="k" font-size="8.5"><tspan x="268" y="1559.25" font-weight="700">Pre-</tspan><tspan x="268" y="1569.25" font-weight="700">processing</tspan><tspan x="268" y="1579.5" font-weight="700">and</tspan><tspan x="268" y="1589.5" font-weight="700">distribution</tspan></text>
<text class="k" font-size="8.5"><tspan x="330" y="1557.5" font-weight="700">Available for</tspan><tspan x="330" y="1568" font-weight="700">human</tspan><tspan x="330" y="1578" font-weight="700">consumption</tspan></text>
<text class="k" font-size="8.5"><tspan x="393" y="1557.5" font-weight="700">Eaten</tspan></text>
<text class="k" font-size="8.5"><tspan x="454.25" y="1557.5" font-weight="700">Required</tspan></text>
</g>
</svg>
</body></html>
